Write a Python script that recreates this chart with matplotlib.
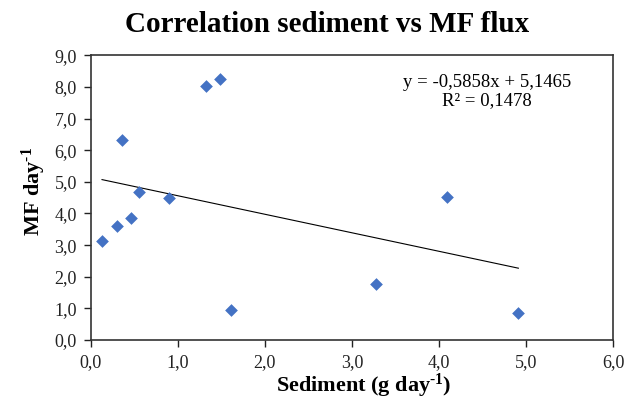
import matplotlib
matplotlib.use("Agg")
import matplotlib.pyplot as plt
from matplotlib.ticker import FuncFormatter
import numpy as np

plt.rcParams['font.family'] = ['Liberation Serif', 'DejaVu Serif']
plt.rcParams['mathtext.fontset'] = 'custom'
plt.rcParams['mathtext.rm'] = 'Liberation Serif'
plt.rcParams['mathtext.bf'] = 'Liberation Serif:bold'
plt.rcParams['mathtext.it'] = 'Liberation Serif:italic'

# Sediment (g/day) and MF flux (per day)
sediment = [0.13, 0.30, 0.46, 0.56, 0.90, 0.36, 1.32, 1.48, 1.61, 3.28, 4.09, 4.91]
mf_flux = [3.14, 3.61, 3.85, 4.68, 4.49, 6.32, 8.02, 8.24, 0.95, 1.76, 4.53, 0.84]

# Linear trend reported on the chart
slope = -0.5858
intercept = 5.1465
r_squared = 0.1478

fig = plt.figure(figsize=(6.27, 4.0), dpi=100)
ax = fig.add_axes([90.7 / 627, 1 - 340 / 400, (613.3 - 90.7) / 627, (340 - 55.3) / 400])

ax.scatter(sediment, mf_flux, marker='D', s=42, color='#4472C4', zorder=3, linewidths=0)

xfit = np.array([min(sediment), max(sediment)])
ax.plot(xfit, slope * xfit + intercept, color='black', lw=0.8, zorder=2)

ax.set_xlim(0, 6)
ax.set_ylim(0, 9)
ax.set_xticks(np.arange(0, 6.01, 1))
ax.set_yticks(np.arange(0, 9.01, 1))
comma = FuncFormatter(lambda v, p: f"{v:.1f}".replace('.', ','))
ax.xaxis.set_major_formatter(comma)
ax.yaxis.set_major_formatter(comma)
ax.tick_params(direction='out', length=5, width=1, labelsize=13, colors='#222222', pad=5)
for s in ax.spines.values():
    s.set_linewidth(1.2)
    s.set_color('#333333')

sup = r'$^{\mathbf{\u2010 1}}$'.replace(r'\u2010 ', '\u2010')
fig.text(364 / 627, 1 - 386 / 400, 'Sediment (g day' + sup + ')', ha='center', va='center',
         fontsize=16, fontweight='bold')
fig.text(34 / 627, 1 - 191 / 400, 'MF day' + sup, ha='center', va='center',
         rotation=90, fontsize=16, fontweight='bold')
fig.text(0.522, 1 - 25 / 400, 'Correlation sediment vs MF flux', ha='center', va='center',
         fontsize=21, fontweight='bold')

eq = f"y = {slope:.4f}x + {intercept:.4f}".replace('.', ',')
r2 = f"R² = {r_squared:.4f}".replace('.', ',')
ax.text(4.55, 8.4, eq + "\n" + r2, ha='center', va='top', fontsize=13.5, linespacing=1.1)

fig.savefig('out.png', dpi=100)
